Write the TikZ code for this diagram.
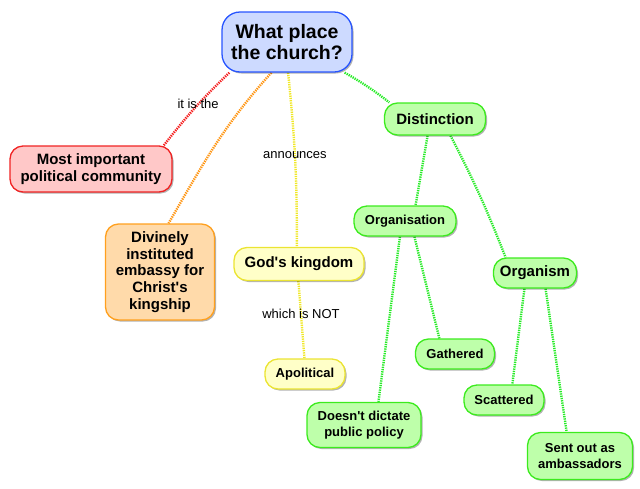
\documentclass[tikz,border=0pt]{standalone}
\usepackage{fontspec}
\setmainfont{Liberation Sans}
\usetikzlibrary{shadows,backgrounds}

\definecolor{qline}{RGB}{40,85,255}
\definecolor{qfill}{RGB}{205,218,255}
\definecolor{rline}{RGB}{240,35,35}
\definecolor{rfill}{RGB}{255,200,200}
\definecolor{oline}{RGB}{255,160,30}
\definecolor{ofill}{RGB}{255,218,170}
\definecolor{yline}{RGB}{235,228,50}
\definecolor{yfill}{RGB}{255,255,200}
\definecolor{gline}{RGB}{60,235,30}
\definecolor{gfill}{RGB}{190,255,170}
\definecolor{rdot}{RGB}{245,30,30}
\definecolor{odot}{RGB}{255,150,20}
\definecolor{ydot}{RGB}{240,232,40}
\definecolor{gdot}{RGB}{40,235,40}

\begin{document}
\begin{tikzpicture}[x=1pt,y=1pt,
  box/.style={draw, line width=1.3pt, rounded corners=13pt, align=center, inner sep=0pt,
    font=\bfseries\fontsize{15}{16.8}\selectfont,
    drop shadow={shadow xshift=1.5pt, shadow yshift=-1.5pt, opacity=0.3, fill=black}},
  small/.style={font=\bfseries\fontsize{13}{16.7}\selectfont},
  qbox/.style={box, draw=qline, fill=qfill, rounded corners=18pt,
    font=\bfseries\fontsize{19.5}{20.5}\selectfont},
  rbox/.style={box, draw=rline, fill=rfill},
  obox/.style={box, draw=oline, fill=ofill},
  ybox/.style={box, draw=yline, fill=yfill},
  gbox/.style={box, draw=gline, fill=gfill},
  link/.style={line width=2.4pt, dash pattern=on 1.3pt off 1pt},
  lab/.style={text=black, font=\fontsize{13}{14}\selectfont, inner sep=1pt}]
\useasboundingbox (0,0) rectangle (640,-488);

\node[qbox, minimum width=130, minimum height=60] (q) at (287,-42) {What place\\the church?};
\node[rbox, minimum width=162, minimum height=46] (r1) at (91,-169) {Most important\\political community};
\node[obox, minimum width=109, minimum height=96] (o1) at (160,-272) {Divinely\\instituted\\embassy for\\Christ\textquotesingle s\\kingship};
\node[ybox, minimum width=130, minimum height=33] (y1) at (299,-264) {God\textquotesingle s kingdom};
\node[ybox, small, minimum width=80, minimum height=30] (y2) at (305,-374) {Apolitical};
\node[gbox, minimum width=101, minimum height=32] (g1) at (435,-119) {Distinction};
\node[gbox, small, minimum width=102, minimum height=30] (g11) at (405,-221) {Organisation};
\node[gbox, minimum width=83, minimum height=30] (g12) at (535,-273) {Organism};
\node[gbox, small, minimum width=114, minimum height=45] (g111) at (364,-425) {Doesn\textquotesingle t dictate\\public policy};
\node[gbox, small, minimum width=79, minimum height=30] (g112) at (455,-354) {Gathered};
\node[gbox, small, minimum width=80, minimum height=30] (g121) at (504,-400) {Scattered};
\node[gbox, small, minimum width=105, minimum height=47] (g122) at (580,-456) {Sent out as\\ambassadors};

\begin{scope}[on background layer]
\draw[link, rdot] (q.208) to[bend right=4] node[lab, pos=0.45] (l1) {it is the} (r1.18);
\draw[link, odot] (q.243) to[out=228, in=60] (o1.80);
\draw[link, ydot] (q.272) to[bend left=3] node[lab, pos=0.47] (l2) {announces} (y1.97);
\draw[link, ydot] (y1.268) -- node[lab, pos=0.42] (l3) {which is NOT} (y2.92);
\draw[link, gdot] (q.-28) to[bend left=4] (g1.160);
\draw[link, gdot] (g1.246) -- (g11.56);
\draw[link, gdot] (g1.313) to[bend left=3] (g12.152);
\draw[link, gdot] (g11.252) -- (g111.58);
\draw[link, gdot] (g11.301) -- (g112.135);
\draw[link, gdot] (g12.236) -- (g121.62);
\draw[link, gdot] (g12.304) -- (g122.119);
\end{scope}
\end{tikzpicture}
\end{document}
